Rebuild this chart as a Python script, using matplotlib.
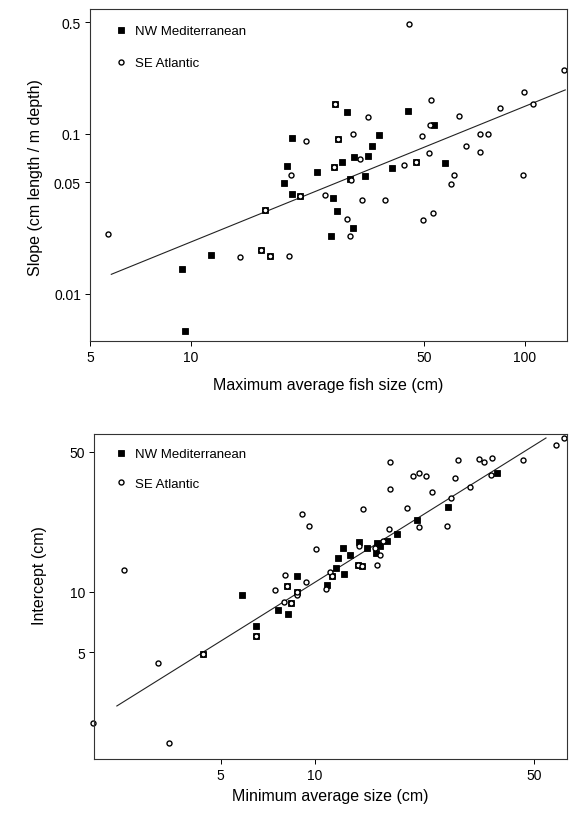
import numpy as np
import matplotlib.pyplot as plt

plt.rcParams['font.family'] = ['Liberation Sans', 'DejaVu Sans']

# top panel: slope vs maximum average fish size
med_max = [20.1, 19.5, 23.9, 27.1, 29.5, 44.8, 53.7, 27.6, 36.7, 34.9, 34.0, 30.8,
           28.5, 26.8, 30.0, 33.2, 40.0, 57.7, 19.0, 20.1, 21.2, 16.7, 11.5, 9.45,
           9.62, 16.3, 17.3, 26.7, 27.4, 30.7, 26.3, 47.2]
med_slope = [0.0939, 0.0633, 0.0581, 0.155, 0.137, 0.139, 0.113, 0.0926, 0.0985, 0.0837,
             0.0731, 0.0718, 0.0666, 0.0624, 0.0523, 0.0543, 0.0615, 0.0661, 0.0493, 0.0421,
             0.0409, 0.0336, 0.0175, 0.0144, 0.00584, 0.0188, 0.0172, 0.0399, 0.0328,
             0.0257, 0.0229, 0.0671]
atl_max = [22.2, 20.0, 45.2, 131.5, 99.9, 105.8, 34.0, 52.6, 63.6, 84.7, 52.0, 30.7,
           32.1, 43.5, 49.2, 73.4, 77.9, 66.6, 51.8, 73.3, 61.6, 98.6, 5.66, 14.1,
           19.75, 30.3, 25.3, 32.7, 38.2, 29.4, 30.1, 49.8, 53.1, 60.3,
           27.1, 27.6, 26.8, 21.2, 16.7, 16.3, 17.3, 47.2]
atl_slope = [0.091, 0.0551, 0.484, 0.252, 0.183, 0.155, 0.1276, 0.162, 0.129, 0.1446,
             0.1137, 0.0999, 0.070, 0.0642, 0.097, 0.0999, 0.0999, 0.0837, 0.076, 0.0774,
             0.0551, 0.0551, 0.0237, 0.0170, 0.0172, 0.0515, 0.0413, 0.0388, 0.0388,
             0.0295, 0.0229, 0.0291, 0.0320, 0.0489,
             0.155, 0.0926, 0.0624, 0.0409, 0.0336, 0.0188, 0.0172, 0.0671]
slope_fit = [-2.524, 0.848]      # log10(y) = a + b*log10(x)
slope_fit_range = [5.79, 132.4]

# bottom panel: intercept vs minimum average size
med_min = [8.75, 5.85, 8.75, 38.1, 26.5, 21.1, 18.3, 12.3, 13.8, 14.6, 15.7, 16.9,
           16.1, 15.6, 11.8, 12.9, 11.65, 12.4, 10.9, 7.59, 8.19, 6.47,
           8.11, 13.7, 14.1, 11.3, 8.37, 6.47, 4.38]
med_int = [12.05, 9.69, 9.97, 39.1, 26.6, 22.7, 19.4, 16.6, 17.7, 16.6, 17.5, 17.9,
           17.0, 15.6, 14.8, 15.2, 13.2, 12.3, 10.8, 8.14, 7.75, 6.80,
           10.75, 13.7, 13.5, 12.0, 8.78, 6.02, 4.90]
atl_min = [9.08, 9.56, 10.04, 2.46, 8.0, 9.33, 7.44, 8.77, 17.3, 28.5, 33.3, 34.6,
           36.6, 46.0, 58.5, 62.2, 20.5, 21.5, 22.6, 28.0, 36.3, 17.3, 23.6, 31.1,
           27.05, 14.2, 19.6, 21.5, 26.3, 17.2, 13.8, 16.4, 15.55, 16.1, 15.7, 11.15,
           10.8, 7.97, 3.15, 1.96, 3.41,
           8.11, 13.7, 14.1, 11.3, 8.37, 6.47, 4.38, 8.75]
atl_int = [24.4, 21.4, 16.3, 12.9, 12.15, 11.25, 10.2, 9.66, 44.2, 45.5, 45.9, 44.2,
           46.4, 45.2, 53.7, 58.6, 37.6, 39.0, 37.6, 36.8, 38.2, 32.5, 31.6, 33.2,
           29.5, 25.9, 26.2, 21.0, 21.4, 20.6, 17.0, 17.9, 16.6, 15.3, 13.7, 12.6,
           10.3, 8.95, 4.42, 2.24, 1.77,
           10.75, 13.7, 13.5, 12.0, 8.78, 6.02, 4.90, 9.97]
int_fit = [0.075, 0.974]
int_fit_range = [2.33, 54.5]

fig = plt.figure(figsize=(5.69, 8.20), dpi=100)
ax1 = fig.add_axes([0.1582, 0.5829, 0.8383, 0.4049])
ax2 = fig.add_axes([0.1652, 0.0732, 0.8313, 0.3963])


def draw(ax, mx, my, ax_, ay, fit, rng):
    xl = np.array(rng)
    ax.plot(xl, 10 ** (fit[0] + fit[1] * np.log10(xl)), color='#222222', lw=0.8)
    ax.plot(mx, my, 's', ms=4.4, color='black', mec='black', mew=0.6,
            ls='none', label='NW Mediterranean', clip_on=False)
    ax.plot(ax_, ay, 'o', ms=3.6, mfc='white', mec='black', mew=1.0,
            ls='none', label='SE Atlantic', clip_on=False)
    ax.set_xscale('log')
    ax.set_yscale('log')
    ax.minorticks_off()
    ax.tick_params(direction='out', length=3.5, width=0.7, labelsize=10, pad=3)
    for s in ax.spines.values():
        s.set_linewidth(0.8)
        s.set_color('#333333')


draw(ax1, med_max, med_slope, atl_max, atl_slope, slope_fit, slope_fit_range)
ax1.set_xlim(5.17, 134)
ax1.set_ylim(0.00508, 0.604)
ax1.set_xticks([5, 10, 50, 100])
ax1.set_xticklabels(['5', '10', '50', '100'])
ax1.set_yticks([0.01, 0.05, 0.1, 0.5])
ax1.set_yticklabels(['0.01', '0.05', '0.1', '0.5'])
ax1.set_xlabel('Maximum average fish size (cm)', fontsize=11.5, labelpad=9)
ax1.set_ylabel('Slope (cm length / m depth)', fontsize=11.5)
ax1.yaxis.set_label_coords(-0.098, 0.494)
ax1.legend(loc='upper left', bbox_to_anchor=(0.052, 0.952), frameon=False,
           fontsize=9.5, handlelength=1.0, handletextpad=0.5, labelspacing=1.5,
           borderpad=0, borderaxespad=0)

draw(ax2, med_min, med_int, atl_min, atl_int, int_fit, int_fit_range)
ax2.set_xlim(1.97, 63.6)
ax2.set_ylim(1.476, 61.1)
ax2.set_xticks([5, 10, 50])
ax2.set_xticklabels(['5', '10', '50'])
ax2.set_yticks([5, 10, 50])
ax2.set_yticklabels(['5', '10', '50'])
ax2.set_xlabel('Minimum average size (cm)', fontsize=11.5, labelpad=4)
ax2.set_ylabel('Intercept (cm)', fontsize=11.5)
ax2.yaxis.set_label_coords(-0.099, 0.566)
ax2.legend(loc='upper left', bbox_to_anchor=(0.044, 0.957), frameon=False,
           fontsize=9.5, handlelength=1.0, handletextpad=0.5, labelspacing=1.3,
           borderpad=0, borderaxespad=0)

fig.savefig('out.png', dpi=100)
